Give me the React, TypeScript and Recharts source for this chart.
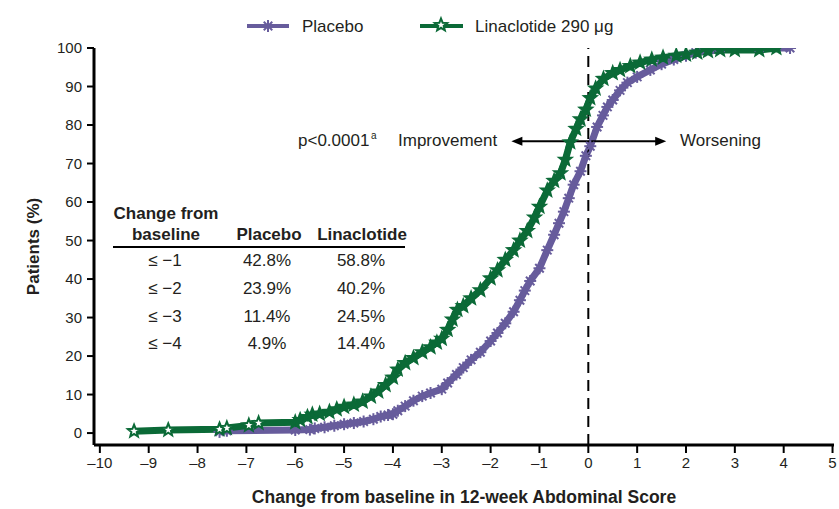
import React from 'react';
import {
  LineChart,
  Line,
  XAxis,
  YAxis,
  Legend,
  ReferenceLine
} from 'recharts';

// values
const placeboX = [-7.55, -7.4, -6.0, -5.7, -5.6, -5.4, -5.2, -5.0, -4.8, -4.6, -4.4, -4.25, -4.1, -4.0, -3.9, -3.75, -3.58, -3.4, -3.23, -3.0, -2.88, -2.7, -2.56, -2.4, -2.21, -2.0, -1.86, -1.7, -1.53, -1.4, -1.3, -1.19, -1.0, -0.84, -0.7, -0.6, -0.5, -0.4, -0.3, -0.16, -0.05, 0.04, 0.18, 0.3, 0.39, 0.5, 0.65, 0.8, 1.0, 1.27, 1.5, 1.75, 2.0, 2.2, 2.4, 2.56, 2.7, 3.5, 4.13];
const placeboY = [0.3, 0.6, 0.8, 0.9, 1.2, 1.5, 1.9, 2.3, 2.6, 3.0, 3.6, 4.3, 4.7, 4.9, 5.8, 7.0, 8.4, 9.6, 10.4, 11.4, 13.0, 15.2, 17.0, 19.0, 21.0, 23.9, 26.0, 28.5, 31.5, 34.5, 37.0, 39.5, 42.8, 47.5, 51.5, 54.5, 57.5, 61.0, 64.5, 68.0, 72.0, 74.5, 79.5, 82.5, 84.7, 86.5, 89.0, 91.0, 92.5, 94.3, 95.8, 97.0, 98.0, 98.8, 99.4, 100, 100, 100, 100];

const linaX = [-9.3, -8.6, -7.55, -7.4, -6.95, -6.75, -6.0, -5.9, -5.75, -5.65, -5.5, -5.3, -5.15, -5.0, -4.8, -4.62, -4.45, -4.3, -4.15, -4.0, -3.9, -3.75, -3.58, -3.4, -3.23, -3.1, -3.0, -2.88, -2.78, -2.68, -2.56, -2.4, -2.21, -2.0, -1.86, -1.7, -1.53, -1.4, -1.25, -1.1, -1.0, -0.84, -0.7, -0.57, -0.47, -0.37, -0.25, -0.16, -0.05, 0.04, 0.15, 0.31, 0.5, 0.65, 0.86, 1.06, 1.3, 1.53, 1.8, 2.0, 2.23, 2.45, 2.7, 3.0, 3.5, 3.85];
const linaY = [0.5, 0.8, 1.0, 1.3, 2.0, 2.6, 2.8, 3.4, 4.2, 4.8, 5.0, 5.5, 6.2, 6.8, 7.4, 8.2, 9.5, 10.8, 12.5, 14.4, 16.5, 18.2, 19.5, 21.0, 22.3, 23.5, 24.5, 26.8, 29.5, 32.0, 33.0, 35.0, 37.1, 40.2, 42.3, 45.0, 47.5, 50.0, 52.5, 56.0, 58.8, 63.0, 65.5, 67.5, 71.0, 75.5, 79.0, 81.5, 84.0, 87.0, 89.5, 92.0, 93.5, 94.3, 95.3, 96.2, 97.0, 97.5, 98.0, 98.3, 98.8, 99.2, 99.5, 99.5, 99.5, 100];

const xTicks = [-10, -9, -8, -7, -6, -5, -4, -3, -2, -1, 0, 1, 2, 3, 4, 5];
const yTicks = [0, 10, 20, 30, 40, 50, 60, 70, 80, 90, 100];

const tableRows = ['≤ −1', '≤ −2', '≤ −3', '≤ −4'];
const tablePlacebo = ['42.8%', '23.9%', '11.4%', '4.9%'];
const tableLina = ['58.8%', '40.2%', '24.5%', '14.4%'];

const placeboData = placeboX.map((x, i) => ({ x, y: placeboY[i] }));
const linaData = linaX.map((x, i) => ({ x, y: linaY[i] }));

const PURPLE = '#675c9c';
const GREEN = '#0b6a37';
const INK = '#231f20';
const FONT = '"Liberation Sans", Arial, sans-serif';

const starPoints = (cx: number, cy: number, ro: number, ri: number) => {
  const pts: string[] = [];
  for (let k = 0; k < 10; k++) {
    const r = k % 2 === 0 ? ro : ri;
    const a = -Math.PI / 2 + (k * Math.PI) / 5;
    pts.push(`${cx + r * Math.cos(a)},${cy + r * Math.sin(a)}`);
  }
  return pts.join(' ');
};

// hollow stars only show where the markers are sparse (left tail)
const StarDot = ({ cx, cy, hollow = true }: any) => {
  if (cx == null || cy == null) return null;
  return (
    <polygon
      points={starPoints(cx, cy, 6.5, 2.8)}
      fill={hollow ? '#fff' : GREEN}
      stroke={GREEN}
      strokeWidth={2}
    />
  );
};

const AsteriskDot = ({ cx, cy }: any) => {
  if (cx == null || cy == null) return null;
  const r = 6;
  const d = r * 0.7071;
  return (
    <g stroke={PURPLE} strokeWidth={2}>
      <line x1={cx - r} y1={cy} x2={cx + r} y2={cy} />
      <line x1={cx} y1={cy - r} x2={cx} y2={cy + r} />
      <line x1={cx - d} y1={cy - d} x2={cx + d} y2={cy + d} />
      <line x1={cx - d} y1={cy + d} x2={cx + d} y2={cy - d} />
    </g>
  );
};

const LegendBox = () => (
  <svg width={839} height={30} style={{ display: 'block' }}>
    <line x1={247} y1={15} x2={289} y2={15} stroke={PURPLE} strokeWidth={4} />
    <AsteriskDot cx={268} cy={15} />
    <text x={302} y={21} fontSize={17} fill={INK} fontFamily={FONT}>Placebo</text>
    <line x1={420} y1={15} x2={463} y2={15} stroke={GREEN} strokeWidth={4} />
    <StarDot cx={441} cy={14} />
    <text x={475} y={21} fontSize={17} fill={INK} fontFamily={FONT}>Linaclotide 290 μg</text>
  </svg>
);

const Arrow = ({ x1, y1, x2, y2 }: any) => (
  <g>
    <line x1={x1 + 8} y1={y1} x2={x2 - 8} y2={y2} stroke="#000" strokeWidth={2} />
    <polygon points={`${x1},${y1} ${x1 + 11},${y1 - 4.5} ${x1 + 11},${y1 + 4.5}`} fill="#000" />
    <polygon points={`${x2},${y2} ${x2 - 11},${y2 - 4.5} ${x2 - 11},${y2 + 4.5}`} fill="#000" />
  </g>
);

const fmtX = (v: number) => (v < 0 ? `–${Math.abs(v)}` : `${v}`);

export default function App() {
  const txt = { fontFamily: FONT, fill: INK };
  return (
    <div style={{ position: 'absolute', left: 0, top: 0, width: 839, height: 509, background: '#fff' }}>
      <LineChart width={839} height={509} margin={{ top: 18, right: 5, bottom: 0, left: 0 }}>
        <Legend
          verticalAlign="top"
          height={30}
          wrapperStyle={{ top: 11, left: 0 }}
          content={() => <LegendBox />}
        />
        <XAxis
          type="number"
          dataKey="x"
          domain={[-10.12, 5.03]}
          ticks={xTicks}
          allowDataOverflow
          tickFormatter={fmtX}
          height={64}
          tickSize={8}
          tickMargin={4}
          axisLine={{ stroke: '#000', strokeWidth: 3 }}
          tickLine={{ stroke: '#000', strokeWidth: 2 }}
          tick={{ fontSize: 15, fill: INK, fontFamily: FONT }}
          label={{
            value: 'Change from baseline in 12-week Abdominal Score',
            position: 'insideBottom',
            offset: 6,
            style: { fontSize: 17.5, fontWeight: 'bold', fill: INK, fontFamily: FONT }
          }}
        />
        <YAxis
          type="number"
          dataKey="y"
          domain={[-3.1, 100]}
          ticks={yTicks}
          allowDataOverflow
          width={94}
          tickSize={7}
          tickMargin={5}
          axisLine={{ stroke: '#000', strokeWidth: 3 }}
          tickLine={{ stroke: '#000', strokeWidth: 2 }}
          tick={{ fontSize: 15, fill: INK, fontFamily: FONT }}
          label={{
            value: 'Patients (%)',
            angle: -90,
            position: 'insideLeft',
            offset: 33,
            style: { fontSize: 17, fontWeight: 'bold', fill: INK, fontFamily: FONT, textAnchor: 'middle' }
          }}
        />
        <Line
          data={placeboData}
          dataKey="y"
          type="linear"
          stroke={PURPLE}
          strokeWidth={7}
          dot={(p: any) => <AsteriskDot key={`p-${p.index}`} {...p} />}
          isAnimationActive={false}
        />
        <Line
          data={linaData}
          dataKey="y"
          type="linear"
          stroke={GREEN}
          strokeWidth={7}
          dot={(p: any) => (
            <StarDot key={`l-${p.index}`} {...p} hollow={p.payload && p.payload.x < -6.5} />
          )}
          isAnimationActive={false}
        />
        <ReferenceLine x={0} stroke="#000" strokeWidth={2} strokeDasharray="11 7" />
        <ReferenceLine
          segment={[{ x: -1.575, y: 75.8 }, { x: 1.595, y: 75.8 }]}
          shape={(p: any) => <Arrow {...p} />}
        />
        <text x={298} y={146} fontSize={17} {...txt}>p&lt;0.0001</text>
        <text x={371} y={139} fontSize={10} {...txt}>a</text>
        <text x={398} y={146} fontSize={17} {...txt}>Improvement</text>
        <text x={680} y={146} fontSize={17} {...txt}>Worsening</text>

        <text x={166} y={219} fontSize={17} fontWeight="bold" textAnchor="middle" {...txt}>Change from</text>
        <text x={166} y={240} fontSize={17} fontWeight="bold" textAnchor="middle" {...txt}>baseline</text>
        <text x={269} y={240} fontSize={17} fontWeight="bold" textAnchor="middle" {...txt}>Placebo</text>
        <text x={362} y={240} fontSize={17} fontWeight="bold" textAnchor="middle" {...txt}>Linaclotide</text>
        <line x1={113} y1={247} x2={405} y2={247} stroke="#000" strokeWidth={2} />
        {tableRows.map((r, i) => (
          <g key={r}>
            <text x={165} y={266 + i * 27.8} fontSize={17} textAnchor="middle" {...txt}>{r}</text>
            <text x={267} y={266 + i * 27.8} fontSize={17} textAnchor="middle" {...txt}>{tablePlacebo[i]}</text>
            <text x={361} y={266 + i * 27.8} fontSize={17} textAnchor="middle" {...txt}>{tableLina[i]}</text>
          </g>
        ))}
      </LineChart>
    </div>
  );
}
